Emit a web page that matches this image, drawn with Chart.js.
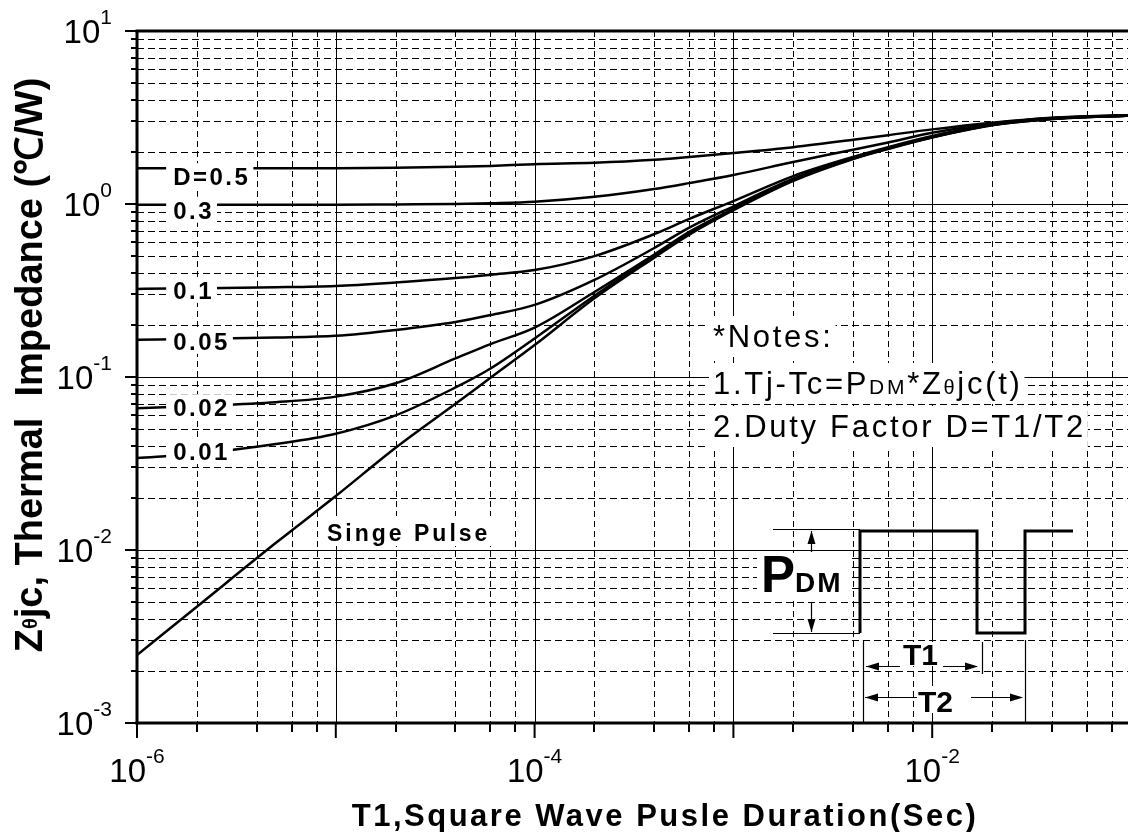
<!DOCTYPE html>
<html lang="en">
<head>
<meta charset="UTF-8">
<title>Transient Thermal Impedance</title>
<script src="https://cdn.jsdelivr.net/npm/chart.js"></script>
<style>
  html, body { margin: 0; padding: 0; background: #fff; overflow: hidden; }
  #wrap { width: 1134px; height: 832px; }
</style>
</head>
<body>
<div id="wrap"><canvas id="zth" width="1134" height="832"></canvas></div>
<script>
// T1, pulse duration (s)
const pulseDuration = [1e-6, 2e-6, 5e-6, 1e-5, 2e-5, 4e-5, 6e-5, 1e-4, 2e-4, 4e-4, 6e-4, 1e-3, 2e-3, 4e-3, 6e-3, 1e-2, 2e-2, 4e-2, 1e-1];

// Z(theta)jc (C/W) for each duty factor
const zD05    = [1.61, 1.61, 1.61, 1.61, 1.62, 1.64, 1.66, 1.70, 1.73, 1.80, 1.87, 1.97, 2.13, 2.35, 2.50, 2.70, 2.95, 3.15, 3.27];
const zD03    = [0.99, 0.99, 0.99, 0.99, 0.995, 1.00, 1.01, 1.03, 1.10, 1.22, 1.32, 1.47, 1.75, 2.06, 2.27, 2.58, 2.92, 3.14, 3.26];
const zD01    = [0.323, 0.326, 0.330, 0.336, 0.352, 0.373, 0.39, 0.415, 0.50, 0.67, 0.82, 1.04, 1.45, 1.87, 2.13, 2.47, 2.90, 3.13, 3.25];
const zD005   = [0.164, 0.166, 0.169, 0.173, 0.187, 0.208, 0.228, 0.261, 0.364, 0.557, 0.73, 0.97, 1.40, 1.85, 2.11, 2.45, 2.88, 3.12, 3.25];
const zD002   = [0.066, 0.068, 0.0715, 0.077, 0.092, 0.128, 0.155, 0.193, 0.31, 0.51, 0.69, 0.94, 1.38, 1.84, 2.10, 2.44, 2.87, 3.11, 3.25];
const zD001   = [0.034, 0.036, 0.041, 0.047, 0.060, 0.087, 0.112, 0.167, 0.295, 0.50, 0.675, 0.93, 1.37, 1.83, 2.09, 2.43, 2.86, 3.10, 3.25];
const zSingle = [0.00247, 0.0047, 0.0110, 0.0205, 0.039, 0.070, 0.099, 0.153, 0.285, 0.49, 0.665, 0.92, 1.36, 1.82, 2.08, 2.42, 2.85, 3.10, 3.25];

// curve labels: text, series, vertical nudge
const curveNames = ['D=0.5', '0.3', '0.1', '0.05', '0.02', '0.01'];
const curveData  = [zD05, zD03, zD01, zD005, zD002, zD001];
const curveDy    = [8, 5, 1, 1, -1, -7];

// axes: decades and minor grid steps
const xExpRange = [-6, -1];
const yExpRange = [-3, 1];
const xTickExps = [-6, -4, -2];
const yTickExps = [1, 0, -1, -2, -3];
const xMinor = [2, 4, 6, 8];
const yMinor = [2, 3, 4, 5, 6, 7, 8, 9];

const FONT = '"Liberation Sans", Arial, sans-serif';

function seg(ctx, x1, y1, x2, y2) {
    ctx.beginPath();
    ctx.moveTo(x1, y1);
    ctx.lineTo(x2, y2);
    ctx.stroke();
}

function arrowHead(ctx, x, y, dir) {
    // dir: 'l', 'r', 'u', 'd' - tip at (x, y)
    ctx.beginPath();
    if (dir === 'l') { ctx.moveTo(x, y); ctx.lineTo(x + 13, y - 4); ctx.lineTo(x + 13, y + 4); }
    if (dir === 'r') { ctx.moveTo(x, y); ctx.lineTo(x - 13, y - 4); ctx.lineTo(x - 13, y + 4); }
    if (dir === 'u') { ctx.moveTo(x, y); ctx.lineTo(x - 4, y + 13); ctx.lineTo(x + 4, y + 13); }
    if (dir === 'd') { ctx.moveTo(x, y); ctx.lineTo(x - 4, y - 13); ctx.lineTo(x + 4, y - 13); }
    ctx.closePath();
    ctx.fill();
}

// draw a run of text pieces [text, font, dy] starting at x, returns end x
function textRun(ctx, pieces, x, y, spacing) {
    ctx.letterSpacing = spacing + 'px';
    pieces.forEach(p => {
        ctx.font = p[1];
        ctx.fillText(p[0], x, y + (p[2] || 0));
        x += ctx.measureText(p[0]).width;
    });
    ctx.letterSpacing = '0px';
    return x;
}

function runWidth(ctx, pieces, spacing) {
    ctx.letterSpacing = spacing + 'px';
    let w = 0;
    pieces.forEach(p => { ctx.font = p[1]; w += ctx.measureText(p[0]).width; });
    ctx.letterSpacing = '0px';
    return w;
}

function powerLabel(ctx, exp, x, y, align) {
    const base = [['10', '33px ' + FONT], ['' + exp, '21px ' + FONT, -19]];
    const w = runWidth(ctx, base, 0);
    const start = align === 'center' ? x - w / 2 : x - w;
    textRun(ctx, base, start, y, 0);
}

const thermalPlot = {
    id: 'thermalPlot',
    beforeDatasetsDraw(chart) {
        const { ctx, chartArea: a, scales: { x, y } } = chart;
        ctx.save();
        ctx.strokeStyle = '#000';
        ctx.lineWidth = 1;
        ctx.setLineDash([6, 4]);
        for (let e = xExpRange[0]; e < xExpRange[1]; e++) {
            xMinor.forEach(m => {
                const px = Math.round(x.getPixelForValue(m * Math.pow(10, e))) + 0.5;
                seg(ctx, px, a.top, px, a.bottom);
            });
        }
        ctx.setLineDash([7, 4]);
        for (let e = yExpRange[0]; e < yExpRange[1]; e++) {
            yMinor.forEach(m => {
                const py = Math.round(y.getPixelForValue(m * Math.pow(10, e))) + 0.5;
                seg(ctx, a.left, py, a.right, py);
            });
        }
        ctx.setLineDash([]);
        for (let e = xExpRange[0] + 1; e < xExpRange[1]; e++) {
            const px = Math.round(x.getPixelForValue(Math.pow(10, e))) + 0.5;
            seg(ctx, px, a.top, px, a.bottom);
        }
        for (let e = yExpRange[0] + 1; e < yExpRange[1]; e++) {
            const py = Math.round(y.getPixelForValue(Math.pow(10, e))) + 0.5;
            seg(ctx, a.left, py, a.right, py);
        }
        ctx.restore();
    },
    afterDatasetsDraw(chart) {
        const { ctx, chartArea: a, scales: { x, y } } = chart;
        ctx.save();
        ctx.fillStyle = '#000';
        ctx.strokeStyle = '#000';
        ctx.textBaseline = 'alphabetic';

        // curve labels on the left
        const lx = x.getPixelForValue(1.52e-6);
        const lf = 'bold 24px ' + FONT;
        curveNames.forEach((name, i) => {
            const cy = y.getPixelForValue(curveData[i][0]) + curveDy[i];
            const w = runWidth(ctx, [[name, lf]], 2.5);
            ctx.fillStyle = '#fff';
            ctx.fillRect(lx - 7, cy - 13, w + 10, 26);
            ctx.fillStyle = '#000';
            textRun(ctx, [[name, lf]], lx, cy + 9, 2.5);
        });

        // single pulse label
        const sf = 'bold 23px ' + FONT;
        const sw = runWidth(ctx, [['Singe Pulse', sf]], 3);
        ctx.fillStyle = '#fff';
        ctx.fillRect(324, 516, sw + 4, 30);
        ctx.fillStyle = '#000';
        textRun(ctx, [['Singe Pulse', sf]], 327, 541, 3);

        // notes
        const nf = '31px ' + FONT, nfs = '21px ' + FONT;
        const notes = [
            [[['*Notes:', nf]], 347],
            [[['1.Tj-Tc=P', nf], ['DM', nfs], ['*Z', nf], ['θ', '20px ' + FONT], ['jc(t)', nf]], 394],
            [[['2.Duty Factor D=T1/T2', nf]], 437]
        ];
        notes.forEach(n => {
            const w = runWidth(ctx, n[0], 2.7);
            ctx.fillStyle = '#fff';
            ctx.fillRect(709, n[1] - 31, w + 6, 41);
        });
        ctx.fillStyle = '#000';
        notes.forEach(n => textRun(ctx, n[0], 713, n[1], 2.7));

        // pulse diagram
        ctx.lineWidth = 1.2;
        seg(ctx, 773, 529.5, 860, 529.5);
        seg(ctx, 773, 633.5, 860, 633.5);
        ctx.fillStyle = '#fff';
        ctx.fillRect(757, 553, 91, 48);
        ctx.fillStyle = '#000';
        seg(ctx, 811.5, 531, 811.5, 552);
        seg(ctx, 811.5, 603, 811.5, 632);
        arrowHead(ctx, 811.5, 531, 'u');
        arrowHead(ctx, 811.5, 632, 'd');
        textRun(ctx, [['P', 'bold 51px ' + FONT]], 761, 592, 0);
        textRun(ctx, [['DM', 'bold 28px ' + FONT]], 795, 592, 2);

        ctx.lineWidth = 3;
        ctx.lineJoin = 'miter';
        ctx.beginPath();
        ctx.moveTo(860, 633);
        ctx.lineTo(860, 531);
        ctx.lineTo(977, 531);
        ctx.lineTo(977, 633);
        ctx.lineTo(1025, 633);
        ctx.lineTo(1025, 531);
        ctx.lineTo(1073, 531);
        ctx.stroke();

        ctx.lineWidth = 1.2;
        seg(ctx, 863.5, 640, 863.5, 723);
        seg(ctx, 982.5, 642, 982.5, 674);
        seg(ctx, 1025.5, 640, 1025.5, 723);
        // T1
        seg(ctx, 866, 666.5, 900, 666.5);
        seg(ctx, 943, 666.5, 977, 666.5);
        arrowHead(ctx, 866, 666.5, 'l');
        arrowHead(ctx, 978, 666.5, 'r');
        ctx.fillStyle = '#fff';
        ctx.fillRect(901, 642, 40, 24);
        ctx.fillStyle = '#000';
        textRun(ctx, [['T1', 'bold 30px ' + FONT]], 903, 665, 0);
        // T2
        seg(ctx, 865, 697.5, 917, 697.5);
        seg(ctx, 971, 697.5, 1022, 697.5);
        arrowHead(ctx, 865, 697.5, 'l');
        arrowHead(ctx, 1023, 697.5, 'r');
        ctx.fillStyle = '#fff';
        ctx.fillRect(917, 686, 40, 27);
        ctx.fillStyle = '#000';
        textRun(ctx, [['T2', 'bold 30px ' + FONT]], 918, 712, 0);

        // frame
        ctx.lineWidth = 3;
        seg(ctx, a.left, a.top, a.left, a.bottom + 1.5);
        seg(ctx, a.left - 1.5, a.bottom, chart.width, a.bottom);
        seg(ctx, a.left - 1.5, a.top, chart.width, a.top);

        // ticks
        ctx.lineWidth = 2;
        for (let e = yExpRange[0]; e <= yExpRange[1]; e++) {
            const py = y.getPixelForValue(Math.pow(10, e));
            seg(ctx, a.left - 12, py, a.left, py);
            if (e < yExpRange[1]) {
                yMinor.forEach(m => {
                    const p = Math.round(y.getPixelForValue(m * Math.pow(10, e)));
                    seg(ctx, a.left - 6, p, a.left, p);
                });
            }
        }
        for (let e = xExpRange[0]; e <= xExpRange[1]; e++) {
            const px = x.getPixelForValue(Math.pow(10, e));
            seg(ctx, px, a.bottom, px, a.bottom + 15);
            if (e < xExpRange[1]) {
                xMinor.forEach(m => {
                    const p = Math.round(x.getPixelForValue(m * Math.pow(10, e)));
                    seg(ctx, p, a.bottom, p, a.bottom + 9);
                });
            }
        }

        // tick labels
        xTickExps.forEach(e => powerLabel(ctx, e, x.getPixelForValue(Math.pow(10, e)), a.bottom + 59, 'center'));
        yTickExps.forEach(e => powerLabel(ctx, e, a.left - 25, y.getPixelForValue(Math.pow(10, e)) + 12, 'right'));

        // x title
        const xt = [['T1,Square Wave Pusle Duration(Sec)', 'bold 31px ' + FONT]];
        const xw = runWidth(ctx, xt, 2.5);
        textRun(ctx, xt, 665 - xw / 2, 826, 2.5);

        // y title
        const yt = [['Z', 'bold 38px ' + FONT], ['θ', 'bold 20px ' + FONT, -5], ['jc, Thermal  Impedance (℃/W)', 'bold 38px ' + FONT]];
        const yw = runWidth(ctx, yt, 0);
        ctx.translate(42, 365);
        ctx.rotate(-Math.PI / 2);
        textRun(ctx, yt, -yw / 2, 0, 0);
        ctx.restore();
    }
};

const ctx = document.getElementById('zth').getContext('2d');
const seriesList = [zD05, zD03, zD01, zD005, zD002, zD001, zSingle];
const seriesNames = ['D=0.5', 'D=0.3', 'D=0.1', 'D=0.05', 'D=0.02', 'D=0.01', 'Single Pulse'];

new Chart(ctx, {
    type: 'line',
    data: {
        datasets: seriesList.map((z, i) => ({
            label: seriesNames[i],
            data: pulseDuration.map((t, k) => ({ x: t, y: z[k] })),
            borderColor: '#000',
            borderWidth: 2.5,
            pointRadius: 0,
            fill: false,
            cubicInterpolationMode: 'monotone'
        }))
    },
    options: {
        responsive: false,
        animation: false,
        events: [],
        layout: { padding: { left: 137, top: 31, right: 3, bottom: 109 } },
        scales: {
            x: { type: 'logarithmic', min: 1e-6, max: 1e-1, display: false },
            y: { type: 'logarithmic', min: 1e-3, max: 10, display: false }
        },
        plugins: {
            legend: { display: false },
            tooltip: { enabled: false }
        }
    },
    plugins: [thermalPlot]
});
</script>
</body>
</html>
